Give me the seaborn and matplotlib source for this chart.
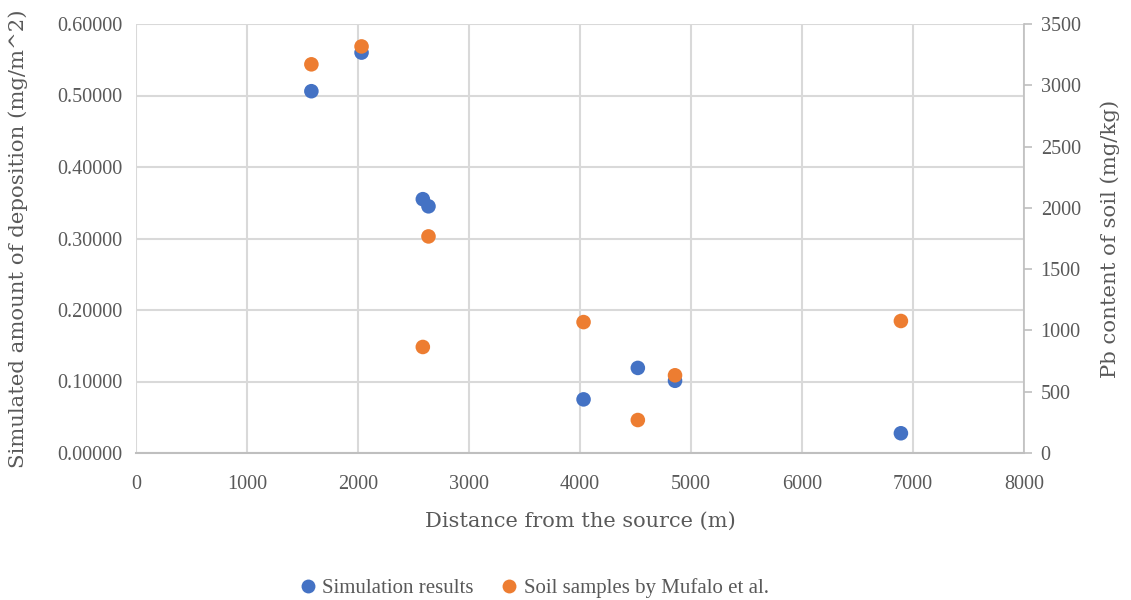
import matplotlib
matplotlib.use("Agg")
import matplotlib.pyplot as plt
import seaborn as sns
import pandas as pd
from matplotlib.lines import Line2D

# Data
distance = [1580, 2032, 2584, 2635, 4032, 4521, 4856, 6891]
simulated = [0.506, 0.560, 0.355, 0.345, 0.075, 0.119, 0.101, 0.0276]
soil_pb = [3171, 3317, 865, 1767, 1068, 269, 634, 1077]
series_names = ["Simulation results", "Soil samples by Mufalo et al."]
left_ticks = [0.0, 0.1, 0.2, 0.3, 0.4, 0.5, 0.6]
right_ticks = [0, 500, 1000, 1500, 2000, 2500, 3000, 3500]
x_ticks = [0, 1000, 2000, 3000, 4000, 5000, 6000, 7000, 8000]

sns.set_style("white")
plt.rcParams['font.family'] = ['Liberation Serif', 'DejaVu Serif']

BLUE = "#4472C4"
ORANGE = "#ED7D31"
GRID = "#d9d9d9"
TXT = "#595959"
LABEL_FONT = ['DejaVu Serif']

df = pd.DataFrame({"distance": distance, "simulated": simulated, "soil": soil_pb})

fig = plt.figure(figsize=(11.31, 6.0), dpi=100)
ax = fig.add_axes([136/1131, 1-453/600, (1024-136)/1131, (453-24)/600])
ax2 = ax.twinx()

sns.scatterplot(data=df, x="distance", y="simulated", ax=ax, color=BLUE, s=110,
                edgecolor="none", zorder=3, legend=False)
sns.scatterplot(data=df, x="distance", y="soil", ax=ax2, color=ORANGE, s=110,
                edgecolor="none", zorder=3, legend=False)

ax.set_xlim(0, 8000)
ax.set_ylim(0, 0.6)
ax2.set_ylim(0, 3500)
ax.set_xticks(x_ticks)
ax.set_yticks(left_ticks)
ax2.set_yticks(right_ticks)
ax.set_yticklabels([f"{v:.5f}" for v in left_ticks])
ax2.set_yticklabels([str(v) for v in right_ticks])

ax.grid(True, color=GRID, linewidth=1.5)
ax.set_axisbelow(True)
for sp in ["top", "left", "right"]:
    ax.spines[sp].set_visible(False)
for sp in ["top", "left", "bottom"]:
    ax2.spines[sp].set_visible(False)
ax2.spines["right"].set_color("#bfbfbf")
ax2.spines["right"].set_linewidth(1.2)
ax.spines["bottom"].set_color("#bfbfbf")
ax.spines["bottom"].set_linewidth(1.5)

ax.tick_params(axis="both", length=0, labelsize=14.5, labelcolor=TXT)
ax.tick_params(axis="x", pad=16)
ax.tick_params(axis="y", pad=10)
ax2.tick_params(axis="y", length=6, color="#bfbfbf", width=1.2, direction="out",
                labelsize=14.5, labelcolor=TXT, pad=6)

ax.set_xlabel("Distance from the source (m)", fontsize=15, color=TXT,
              family=LABEL_FONT)
ax.set_ylabel("Simulated amount of deposition (mg/m^2)", fontsize=15.3, color=TXT,
              family=LABEL_FONT)
ax2.set_ylabel("Pb content of soil (mg/kg)", fontsize=15.3, color=TXT,
               family=LABEL_FONT)
ax.xaxis.set_label_coords(0.5, (453-521)/429)
ax.xaxis.label.set_va("center")
ax.yaxis.set_label_coords((18-136)/888, 0.5)
ax.yaxis.label.set_va("center")
ax2.yaxis.set_label_coords((1110-136)/888, 0.5)
ax2.yaxis.label.set_va("center")

handles = [Line2D([0], [0], marker="o", linestyle="none", markerfacecolor=BLUE,
                  markeredgecolor="none", markersize=10),
           Line2D([0], [0], marker="o", linestyle="none", markerfacecolor=ORANGE,
                  markeredgecolor="none", markersize=10)]
fig.legend(handles, series_names, loc="center", bbox_to_anchor=(534/1131, 1-588/600),
           ncol=2, frameon=False, fontsize=15, labelcolor=TXT, handlelength=0.8,
           handletextpad=0.3, columnspacing=1.3)

fig.savefig("out.png", dpi=100)
